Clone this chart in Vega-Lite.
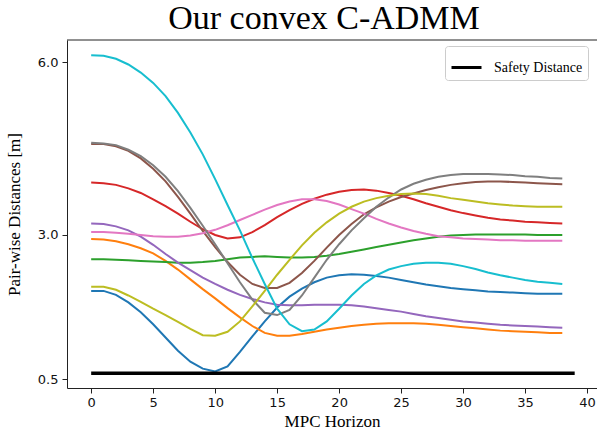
{
"$schema":"https://vega.github.io/schema/vega-lite/v6.json",
"width":530,"height":348,
"autosize":{"type":"none"},
"padding":{"left":67,"top":40,"right":0,"bottom":48},
"background":"white",
"title":{"text":"Our convex C-ADMM","font":"Liberation Serif","fontSize":34,"fontWeight":"normal","color":"black","anchor":"middle","offset":4,"dx":-8},
"config":{"view":{"stroke":null},"axis":{"grid":false,"domainColor":"#222","domainWidth":1,"tickColor":"#222","tickWidth":1,"labelColor":"#111","labelFont":"DejaVu Sans","labelFontSize":13,"tickSize":5,"titleFont":"Liberation Serif","titleFontSize":17,"titleFontWeight":"normal","titleColor":"black"}},
"datasets":{
"pairs":[
{"s":"p0","t":0,"d":2.03},{"s":"p0","t":1,"d":2.03},{"s":"p0","t":2,"d":1.96},{"s":"p0","t":3,"d":1.83},{"s":"p0","t":4,"d":1.66},{"s":"p0","t":5,"d":1.45},{"s":"p0","t":6,"d":1.22},{"s":"p0","t":7,"d":0.99},{"s":"p0","t":8,"d":0.80},{"s":"p0","t":9,"d":0.68},{"s":"p0","t":10,"d":0.63},{"s":"p0","t":11,"d":0.72},{"s":"p0","t":12,"d":0.97},{"s":"p0","t":13,"d":1.24},{"s":"p0","t":14,"d":1.50},{"s":"p0","t":15,"d":1.74},{"s":"p0","t":16,"d":1.93},{"s":"p0","t":17,"d":2.07},{"s":"p0","t":18,"d":2.18},{"s":"p0","t":19,"d":2.26},{"s":"p0","t":20,"d":2.30},{"s":"p0","t":21,"d":2.32},{"s":"p0","t":22,"d":2.31},{"s":"p0","t":23,"d":2.29},{"s":"p0","t":24,"d":2.26},{"s":"p0","t":25,"d":2.22},{"s":"p0","t":26,"d":2.18},{"s":"p0","t":27,"d":2.14},{"s":"p0","t":28,"d":2.11},{"s":"p0","t":29,"d":2.08},{"s":"p0","t":30,"d":2.06},{"s":"p0","t":31,"d":2.04},{"s":"p0","t":32,"d":2.02},{"s":"p0","t":33,"d":2.01},{"s":"p0","t":34,"d":2.00},{"s":"p0","t":35,"d":1.99},{"s":"p0","t":36,"d":1.98},{"s":"p0","t":37,"d":1.98},{"s":"p0","t":38,"d":1.98},
{"s":"p1","t":0,"d":2.93},{"s":"p1","t":1,"d":2.92},{"s":"p1","t":2,"d":2.89},{"s":"p1","t":3,"d":2.84},{"s":"p1","t":4,"d":2.77},{"s":"p1","t":5,"d":2.68},{"s":"p1","t":6,"d":2.55},{"s":"p1","t":7,"d":2.40},{"s":"p1","t":8,"d":2.23},{"s":"p1","t":9,"d":2.06},{"s":"p1","t":10,"d":1.90},{"s":"p1","t":11,"d":1.73},{"s":"p1","t":12,"d":1.57},{"s":"p1","t":13,"d":1.42},{"s":"p1","t":14,"d":1.30},{"s":"p1","t":15,"d":1.25},{"s":"p1","t":16,"d":1.25},{"s":"p1","t":17,"d":1.28},{"s":"p1","t":18,"d":1.32},{"s":"p1","t":19,"d":1.36},{"s":"p1","t":20,"d":1.39},{"s":"p1","t":21,"d":1.42},{"s":"p1","t":22,"d":1.44},{"s":"p1","t":23,"d":1.46},{"s":"p1","t":24,"d":1.47},{"s":"p1","t":25,"d":1.47},{"s":"p1","t":26,"d":1.47},{"s":"p1","t":27,"d":1.46},{"s":"p1","t":28,"d":1.44},{"s":"p1","t":29,"d":1.42},{"s":"p1","t":30,"d":1.40},{"s":"p1","t":31,"d":1.38},{"s":"p1","t":32,"d":1.36},{"s":"p1","t":33,"d":1.34},{"s":"p1","t":34,"d":1.33},{"s":"p1","t":35,"d":1.32},{"s":"p1","t":36,"d":1.31},{"s":"p1","t":37,"d":1.30},{"s":"p1","t":38,"d":1.30},
{"s":"p2","t":0,"d":2.58},{"s":"p2","t":1,"d":2.58},{"s":"p2","t":2,"d":2.57},{"s":"p2","t":3,"d":2.56},{"s":"p2","t":4,"d":2.55},{"s":"p2","t":5,"d":2.54},{"s":"p2","t":6,"d":2.53},{"s":"p2","t":7,"d":2.52},{"s":"p2","t":8,"d":2.52},{"s":"p2","t":9,"d":2.53},{"s":"p2","t":10,"d":2.55},{"s":"p2","t":11,"d":2.58},{"s":"p2","t":12,"d":2.61},{"s":"p2","t":13,"d":2.62},{"s":"p2","t":14,"d":2.63},{"s":"p2","t":15,"d":2.62},{"s":"p2","t":16,"d":2.61},{"s":"p2","t":17,"d":2.61},{"s":"p2","t":18,"d":2.62},{"s":"p2","t":19,"d":2.64},{"s":"p2","t":20,"d":2.67},{"s":"p2","t":21,"d":2.71},{"s":"p2","t":22,"d":2.75},{"s":"p2","t":23,"d":2.79},{"s":"p2","t":24,"d":2.83},{"s":"p2","t":25,"d":2.87},{"s":"p2","t":26,"d":2.91},{"s":"p2","t":27,"d":2.94},{"s":"p2","t":28,"d":2.97},{"s":"p2","t":29,"d":2.99},{"s":"p2","t":30,"d":3.00},{"s":"p2","t":31,"d":3.01},{"s":"p2","t":32,"d":3.01},{"s":"p2","t":33,"d":3.01},{"s":"p2","t":34,"d":3.01},{"s":"p2","t":35,"d":3.01},{"s":"p2","t":36,"d":3.00},{"s":"p2","t":37,"d":3.00},{"s":"p2","t":38,"d":3.00},
{"s":"p3","t":0,"d":3.91},{"s":"p3","t":1,"d":3.90},{"s":"p3","t":2,"d":3.87},{"s":"p3","t":3,"d":3.81},{"s":"p3","t":4,"d":3.73},{"s":"p3","t":5,"d":3.62},{"s":"p3","t":6,"d":3.50},{"s":"p3","t":7,"d":3.37},{"s":"p3","t":8,"d":3.23},{"s":"p3","t":9,"d":3.10},{"s":"p3","t":10,"d":3.00},{"s":"p3","t":11,"d":2.94},{"s":"p3","t":12,"d":2.96},{"s":"p3","t":13,"d":3.05},{"s":"p3","t":14,"d":3.17},{"s":"p3","t":15,"d":3.31},{"s":"p3","t":16,"d":3.43},{"s":"p3","t":17,"d":3.54},{"s":"p3","t":18,"d":3.63},{"s":"p3","t":19,"d":3.70},{"s":"p3","t":20,"d":3.75},{"s":"p3","t":21,"d":3.78},{"s":"p3","t":22,"d":3.79},{"s":"p3","t":23,"d":3.77},{"s":"p3","t":24,"d":3.73},{"s":"p3","t":25,"d":3.68},{"s":"p3","t":26,"d":3.62},{"s":"p3","t":27,"d":3.55},{"s":"p3","t":28,"d":3.49},{"s":"p3","t":29,"d":3.43},{"s":"p3","t":30,"d":3.38},{"s":"p3","t":31,"d":3.34},{"s":"p3","t":32,"d":3.30},{"s":"p3","t":33,"d":3.27},{"s":"p3","t":34,"d":3.25},{"s":"p3","t":35,"d":3.23},{"s":"p3","t":36,"d":3.22},{"s":"p3","t":37,"d":3.21},{"s":"p3","t":38,"d":3.20},
{"s":"p4","t":0,"d":3.20},{"s":"p4","t":1,"d":3.19},{"s":"p4","t":2,"d":3.15},{"s":"p4","t":3,"d":3.08},{"s":"p4","t":4,"d":2.97},{"s":"p4","t":5,"d":2.83},{"s":"p4","t":6,"d":2.67},{"s":"p4","t":7,"d":2.52},{"s":"p4","t":8,"d":2.39},{"s":"p4","t":9,"d":2.26},{"s":"p4","t":10,"d":2.15},{"s":"p4","t":11,"d":2.05},{"s":"p4","t":12,"d":1.96},{"s":"p4","t":13,"d":1.89},{"s":"p4","t":14,"d":1.83},{"s":"p4","t":15,"d":1.79},{"s":"p4","t":16,"d":1.78},{"s":"p4","t":17,"d":1.78},{"s":"p4","t":18,"d":1.79},{"s":"p4","t":19,"d":1.79},{"s":"p4","t":20,"d":1.79},{"s":"p4","t":21,"d":1.78},{"s":"p4","t":22,"d":1.76},{"s":"p4","t":23,"d":1.73},{"s":"p4","t":24,"d":1.70},{"s":"p4","t":25,"d":1.67},{"s":"p4","t":26,"d":1.63},{"s":"p4","t":27,"d":1.59},{"s":"p4","t":28,"d":1.56},{"s":"p4","t":29,"d":1.53},{"s":"p4","t":30,"d":1.50},{"s":"p4","t":31,"d":1.48},{"s":"p4","t":32,"d":1.46},{"s":"p4","t":33,"d":1.44},{"s":"p4","t":34,"d":1.43},{"s":"p4","t":35,"d":1.42},{"s":"p4","t":36,"d":1.41},{"s":"p4","t":37,"d":1.40},{"s":"p4","t":38,"d":1.39},
{"s":"p5","t":0,"d":4.58},{"s":"p5","t":1,"d":4.58},{"s":"p5","t":2,"d":4.54},{"s":"p5","t":3,"d":4.46},{"s":"p5","t":4,"d":4.33},{"s":"p5","t":5,"d":4.15},{"s":"p5","t":6,"d":3.93},{"s":"p5","t":7,"d":3.66},{"s":"p5","t":8,"d":3.37},{"s":"p5","t":9,"d":3.07},{"s":"p5","t":10,"d":2.79},{"s":"p5","t":11,"d":2.53},{"s":"p5","t":12,"d":2.31},{"s":"p5","t":13,"d":2.15},{"s":"p5","t":14,"d":2.08},{"s":"p5","t":15,"d":2.08},{"s":"p5","t":16,"d":2.17},{"s":"p5","t":17,"d":2.34},{"s":"p5","t":18,"d":2.55},{"s":"p5","t":19,"d":2.78},{"s":"p5","t":20,"d":3.00},{"s":"p5","t":21,"d":3.19},{"s":"p5","t":22,"d":3.36},{"s":"p5","t":23,"d":3.48},{"s":"p5","t":24,"d":3.58},{"s":"p5","t":25,"d":3.66},{"s":"p5","t":26,"d":3.72},{"s":"p5","t":27,"d":3.78},{"s":"p5","t":28,"d":3.83},{"s":"p5","t":29,"d":3.87},{"s":"p5","t":30,"d":3.90},{"s":"p5","t":31,"d":3.92},{"s":"p5","t":32,"d":3.93},{"s":"p5","t":33,"d":3.93},{"s":"p5","t":34,"d":3.92},{"s":"p5","t":35,"d":3.91},{"s":"p5","t":36,"d":3.90},{"s":"p5","t":37,"d":3.89},{"s":"p5","t":38,"d":3.88},
{"s":"p6","t":0,"d":3.05},{"s":"p6","t":1,"d":3.05},{"s":"p6","t":2,"d":3.04},{"s":"p6","t":3,"d":3.02},{"s":"p6","t":4,"d":3.00},{"s":"p6","t":5,"d":2.98},{"s":"p6","t":6,"d":2.97},{"s":"p6","t":7,"d":2.97},{"s":"p6","t":8,"d":2.99},{"s":"p6","t":9,"d":3.03},{"s":"p6","t":10,"d":3.09},{"s":"p6","t":11,"d":3.17},{"s":"p6","t":12,"d":3.26},{"s":"p6","t":13,"d":3.35},{"s":"p6","t":14,"d":3.44},{"s":"p6","t":15,"d":3.52},{"s":"p6","t":16,"d":3.58},{"s":"p6","t":17,"d":3.62},{"s":"p6","t":18,"d":3.62},{"s":"p6","t":19,"d":3.59},{"s":"p6","t":20,"d":3.53},{"s":"p6","t":21,"d":3.45},{"s":"p6","t":22,"d":3.37},{"s":"p6","t":23,"d":3.28},{"s":"p6","t":24,"d":3.20},{"s":"p6","t":25,"d":3.13},{"s":"p6","t":26,"d":3.07},{"s":"p6","t":27,"d":3.02},{"s":"p6","t":28,"d":2.98},{"s":"p6","t":29,"d":2.96},{"s":"p6","t":30,"d":2.94},{"s":"p6","t":31,"d":2.93},{"s":"p6","t":32,"d":2.92},{"s":"p6","t":33,"d":2.91},{"s":"p6","t":34,"d":2.91},{"s":"p6","t":35,"d":2.90},{"s":"p6","t":36,"d":2.90},{"s":"p6","t":37,"d":2.90},{"s":"p6","t":38,"d":2.90},
{"s":"p7","t":0,"d":4.60},{"s":"p7","t":1,"d":4.59},{"s":"p7","t":2,"d":4.56},{"s":"p7","t":3,"d":4.48},{"s":"p7","t":4,"d":4.37},{"s":"p7","t":5,"d":4.21},{"s":"p7","t":6,"d":4.01},{"s":"p7","t":7,"d":3.76},{"s":"p7","t":8,"d":3.47},{"s":"p7","t":9,"d":3.16},{"s":"p7","t":10,"d":2.84},{"s":"p7","t":11,"d":2.51},{"s":"p7","t":12,"d":2.18},{"s":"p7","t":13,"d":1.88},{"s":"p7","t":14,"d":1.65},{"s":"p7","t":15,"d":1.61},{"s":"p7","t":16,"d":1.70},{"s":"p7","t":17,"d":1.95},{"s":"p7","t":18,"d":2.26},{"s":"p7","t":19,"d":2.57},{"s":"p7","t":20,"d":2.84},{"s":"p7","t":21,"d":3.08},{"s":"p7","t":22,"d":3.29},{"s":"p7","t":23,"d":3.49},{"s":"p7","t":24,"d":3.65},{"s":"p7","t":25,"d":3.79},{"s":"p7","t":26,"d":3.89},{"s":"p7","t":27,"d":3.96},{"s":"p7","t":28,"d":4.01},{"s":"p7","t":29,"d":4.04},{"s":"p7","t":30,"d":4.06},{"s":"p7","t":31,"d":4.06},{"s":"p7","t":32,"d":4.06},{"s":"p7","t":33,"d":4.05},{"s":"p7","t":34,"d":4.04},{"s":"p7","t":35,"d":4.02},{"s":"p7","t":36,"d":4.01},{"s":"p7","t":37,"d":3.99},{"s":"p7","t":38,"d":3.98},
{"s":"p8","t":0,"d":2.10},{"s":"p8","t":1,"d":2.10},{"s":"p8","t":2,"d":2.05},{"s":"p8","t":3,"d":1.95},{"s":"p8","t":4,"d":1.84},{"s":"p8","t":5,"d":1.72},{"s":"p8","t":6,"d":1.61},{"s":"p8","t":7,"d":1.49},{"s":"p8","t":8,"d":1.37},{"s":"p8","t":9,"d":1.26},{"s":"p8","t":10,"d":1.25},{"s":"p8","t":11,"d":1.32},{"s":"p8","t":12,"d":1.50},{"s":"p8","t":13,"d":1.76},{"s":"p8","t":14,"d":2.03},{"s":"p8","t":15,"d":2.31},{"s":"p8","t":16,"d":2.57},{"s":"p8","t":17,"d":2.82},{"s":"p8","t":18,"d":3.04},{"s":"p8","t":19,"d":3.22},{"s":"p8","t":20,"d":3.37},{"s":"p8","t":21,"d":3.49},{"s":"p8","t":22,"d":3.58},{"s":"p8","t":23,"d":3.64},{"s":"p8","t":24,"d":3.68},{"s":"p8","t":25,"d":3.71},{"s":"p8","t":26,"d":3.72},{"s":"p8","t":27,"d":3.71},{"s":"p8","t":28,"d":3.68},{"s":"p8","t":29,"d":3.64},{"s":"p8","t":30,"d":3.61},{"s":"p8","t":31,"d":3.58},{"s":"p8","t":32,"d":3.55},{"s":"p8","t":33,"d":3.53},{"s":"p8","t":34,"d":3.51},{"s":"p8","t":35,"d":3.50},{"s":"p8","t":36,"d":3.49},{"s":"p8","t":37,"d":3.49},{"s":"p8","t":38,"d":3.49},
{"s":"p9","t":0,"d":6.12},{"s":"p9","t":1,"d":6.11},{"s":"p9","t":2,"d":6.06},{"s":"p9","t":3,"d":5.96},{"s":"p9","t":4,"d":5.82},{"s":"p9","t":5,"d":5.64},{"s":"p9","t":6,"d":5.41},{"s":"p9","t":7,"d":5.12},{"s":"p9","t":8,"d":4.78},{"s":"p9","t":9,"d":4.40},{"s":"p9","t":10,"d":3.97},{"s":"p9","t":11,"d":3.52},{"s":"p9","t":12,"d":3.08},{"s":"p9","t":13,"d":2.60},{"s":"p9","t":14,"d":2.15},{"s":"p9","t":15,"d":1.72},{"s":"p9","t":16,"d":1.45},{"s":"p9","t":17,"d":1.33},{"s":"p9","t":18,"d":1.36},{"s":"p9","t":19,"d":1.50},{"s":"p9","t":20,"d":1.72},{"s":"p9","t":21,"d":1.95},{"s":"p9","t":22,"d":2.15},{"s":"p9","t":23,"d":2.30},{"s":"p9","t":24,"d":2.40},{"s":"p9","t":25,"d":2.46},{"s":"p9","t":26,"d":2.50},{"s":"p9","t":27,"d":2.52},{"s":"p9","t":28,"d":2.52},{"s":"p9","t":29,"d":2.50},{"s":"p9","t":30,"d":2.46},{"s":"p9","t":31,"d":2.41},{"s":"p9","t":32,"d":2.35},{"s":"p9","t":33,"d":2.30},{"s":"p9","t":34,"d":2.26},{"s":"p9","t":35,"d":2.22},{"s":"p9","t":36,"d":2.19},{"s":"p9","t":37,"d":2.17},{"s":"p9","t":38,"d":2.15}
],
"safety":[{"label":"Safety Distance","t":0,"d":0.6},{"label":"Safety Distance","t":39,"d":0.6}],
"frame":[{"edge":"top","d":6.385}]
},
"layer":[
{"data":{"name":"frame"},"mark":{"type":"rule","color":"#222","strokeWidth":1},
 "encoding":{"y":{"field":"d","type":"quantitative","scale":{"domain":[0.344,6.385],"nice":false,"zero":false},"axis":{"title":"Pair-wise Distances [m]","values":[0.5,3.0,6.0],"format":".1f","labelPadding":4,"titlePadding":14}}}},
{"data":{"name":"pairs"},"mark":{"type":"line","strokeWidth":2},
 "encoding":{
  "x":{"field":"t","type":"quantitative","scale":{"domain":[-1.95,40.8],"nice":false,"zero":false},"axis":{"title":"MPC Horizon","values":[0,5,10,15,20,25,30,35,40],"format":"d","labelPadding":3,"titlePadding":4}},
  "y":{"field":"d","type":"quantitative","scale":{"domain":[0.344,6.385],"nice":false,"zero":false},"axis":{"title":"Pair-wise Distances [m]","values":[0.5,3.0,6.0],"format":".1f","labelPadding":4,"titlePadding":14}},
  "color":{"field":"s","type":"nominal","scale":{"domain":["p0","p1","p2","p3","p4","p5","p6","p7","p8","p9"],"range":["#1f77b4","#ff7f0e","#2ca02c","#d62728","#9467bd","#8c564b","#e377c2","#7f7f7f","#bcbd22","#17becf"]},"legend":null}
 }},
{"data":{"name":"safety"},"mark":{"type":"line","strokeWidth":3.5},
 "encoding":{
  "x":{"field":"t","type":"quantitative","scale":{"domain":[-1.95,40.8],"nice":false,"zero":false},"axis":{"title":"MPC Horizon","values":[0,5,10,15,20,25,30,35,40],"format":"d","labelPadding":3,"titlePadding":4}},
  "y":{"field":"d","type":"quantitative","scale":{"domain":[0.344,6.385],"nice":false,"zero":false},"axis":{"title":"Pair-wise Distances [m]","values":[0.5,3.0,6.0],"format":".1f","labelPadding":4,"titlePadding":14}},
  "color":{"field":"label","type":"nominal","scale":{"range":["black"]},"legend":{"title":null,"orient":"none","legendX":378,"legendY":6,"symbolType":"stroke","symbolSize":900,"symbolStrokeWidth":3,"labelFont":"Liberation Serif","labelFontSize":14,"labelColor":"black","labelOffset":11,"fillColor":"white","strokeColor":"#cccccc","cornerRadius":3,"padding":5}}
 }}
],
"resolve":{"scale":{"color":"independent"},"legend":{"color":"independent"}}
}
